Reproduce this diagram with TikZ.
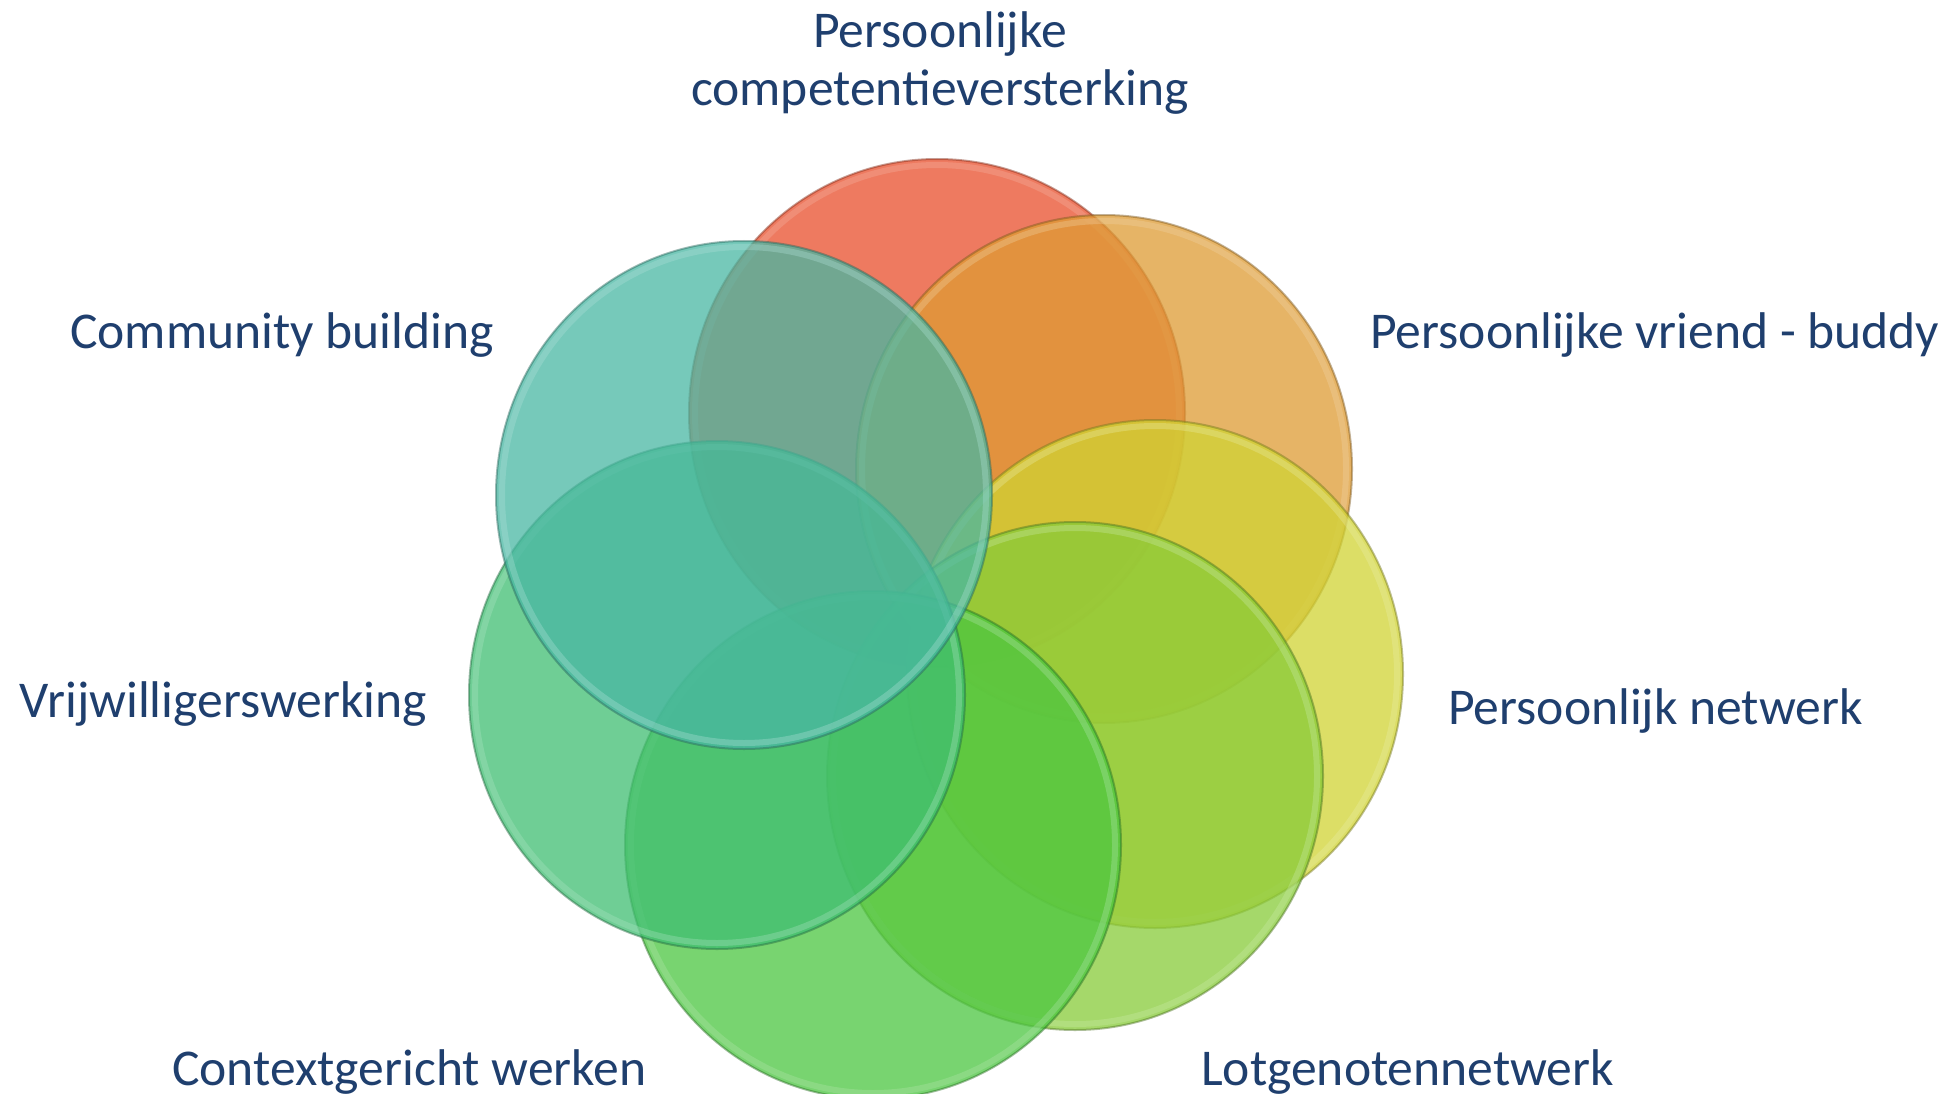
\documentclass[tikz,border=0pt]{standalone}
\usepackage{fontspec}
\usetikzlibrary{shapes.geometric}
\setmainfont{Carlito}
\definecolor{txt}{RGB}{31,63,110}
\definecolor{cred}{RGB}{232,78,43}
\definecolor{corange}{RGB}{222,155,51}
\definecolor{cyellow}{RGB}{208,211,51}
\definecolor{clotgen}{RGB}{135,203,56}
\definecolor{ccontext}{RGB}{75,198,64}
\definecolor{cvrijw}{RGB}{63,190,114}
\definecolor{ccomm}{RGB}{72,183,163}
\tikzset{
  bub/.style={ellipse, inner sep=0pt, minimum width=496pt, minimum height=508pt, fill=#1, fill opacity=0.75,
    draw=#1!55!black, draw opacity=0.45, line width=2pt},
  rim/.style={draw=#1!45!white, draw opacity=0.35, line width=6pt},
  lbl/.style={text=txt, inner sep=0pt, font=\fontsize{51.6}{58}\selectfont}
}
\begin{document}
\begin{tikzpicture}[x=1pt, y=-1pt]
\useasboundingbox (0,0) rectangle (1957,1094);
\foreach \n/\c/\x/\y in {red/cred/937/413, orange/corange/1104/469, yellow/cyellow/1155/674,
  lotgen/clotgen/1075/776, context/ccontext/873/845, vrijw/cvrijw/717/695, comm/ccomm/744/495}{
  \node[bub=\c] (\n) at (\x,\y) {};
  \draw[rim=\c] (\n.center) ellipse [x radius=242pt, y radius=248pt];
}
\node[lbl, anchor=base, align=center] (t1) at (940,106) {Persoonlijke\\competentieversterking};
\node[lbl, anchor=base west] (t2) at (1370,348) {Persoonlijke vriend - buddy};
\node[lbl, anchor=base west] (t3) at (1448,724) {Persoonlijk netwerk};
\node[lbl, anchor=base west] (t4) at (1201,1085) {Lotgenotennetwerk};
\node[lbl, anchor=base west] (t5) at (172,1085) {Contextgericht werken};
\node[lbl, anchor=base west] (t6) at (19,717) {Vrijwilligerswerking};
\node[lbl, anchor=base west] (t7) at (70,348) {Community building};
\end{tikzpicture}
\end{document}
